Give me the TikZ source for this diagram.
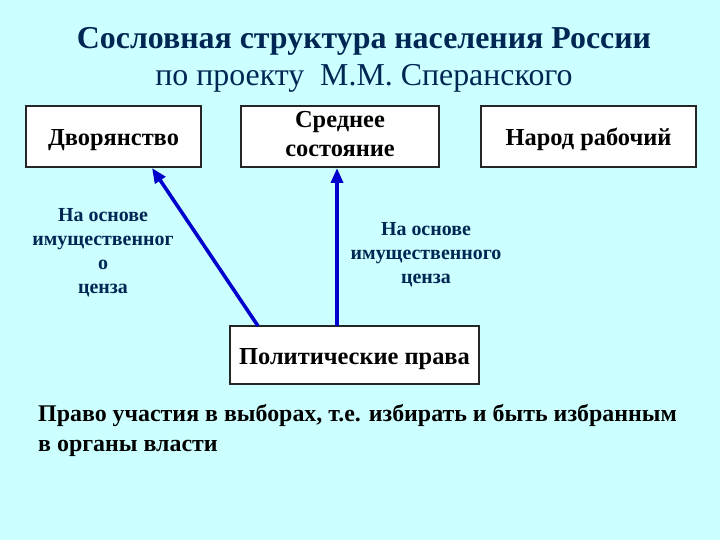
\documentclass[tikz,border=0pt]{standalone}
\usepackage{fontspec}
\setmainfont{Liberation Serif}
\usetikzlibrary{arrows.meta}
\definecolor{bg}{RGB}{204,255,255}
\definecolor{navy}{RGB}{0,38,84}
\definecolor{arrowblue}{RGB}{0,0,204}
\tikzset{
  box/.style={draw=black!85, line width=1.2pt, fill=white, font=\fontsize{24.5}{29}\selectfont\bfseries, align=center, inner sep=0pt},
  oneline/.style={text height=22bp, text depth=4bp},
  lbl/.style={text=navy, font=\fontsize{20}{24}\selectfont\bfseries, align=center},
  conn/.style={draw=arrowblue, line width=3.6pt, -{Triangle[length=15pt,width=12pt,fill=arrowblue]}}
}
\begin{document}
\begin{tikzpicture}[x=1bp,y=-1bp]
\fill[bg] (0,0) rectangle (720,540);
\useasboundingbox (0,0) rectangle (720,540);
\node[text=navy, font=\fontsize{32}{36}\selectfont\bfseries] (t1) at (364,41) {Сословная структура населения России};
\node[text=navy, font=\fontsize{32}{36}\selectfont] (t2) at (364,78) {по проекту\ \ М.М. Сперанского};
\node[box, oneline, minimum width=175bp, minimum height=61bp] (dv) at (113.5,136.5) {Дворянство};
\node[draw=black!85, line width=1.2pt, fill=white, font=\fontsize{24.5}{29}\selectfont\bfseries, inner sep=0pt, minimum width=198bp, minimum height=61bp] (sr) at (340,136.5) {\raisebox{-6.5bp}{\begin{tabular}{@{}c@{}}Среднее\\состояние\end{tabular}}};
\node[box, oneline, minimum width=215bp, minimum height=61bp] (nr) at (588.5,136.5) {Народ рабочий};
\node[box, oneline, minimum width=249bp, minimum height=58bp] (pp) at (354.5,355) {Политические права};
\coordinate (a1s) at (258,326);
\coordinate (a1e) at (152,168);
\coordinate (a2s) at (337,326);
\coordinate (a2e) at (337,168);
\draw[conn] (a1s) -- (a1e);
\draw[conn] (a2s) -- (a2e);
\node[lbl] (l1) at (103,253) {На основе\\имущественног\\о\\ценза};
\node[lbl] (l2) at (426,255) {На основе\\имущественного\\ценза};
\node[anchor=west, font=\fontsize{24}{30.5}\selectfont\bfseries, align=left, inner sep=0pt] (bt) at (38,430.5) {Право участия в выборах, т.е. избирать и быть избранным\\в органы власти};
\end{tikzpicture}
\end{document}
